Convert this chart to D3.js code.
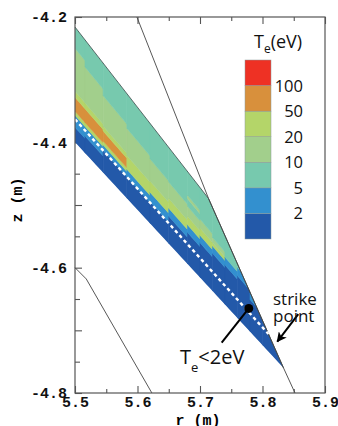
<!DOCTYPE html>
<html>
<head>
<meta charset="utf-8">
<script src="https://cdn.jsdelivr.net/npm/d3@7"></script>
<style>
  body { margin: 0; background: #fff; }
  svg { display: block; }
</style>
</head>
<body>
<svg id="chart" width="338" height="426"></svg>
<script>
// Te colour levels (eV) and their colours, bottom to top of the colour bar
const levels = [2, 5, 10, 20, 50, 100];
const levelColors = ['#2359a9', '#3390cf', '#77c9ae', '#a2cf8c', '#b4d569', '#d8903c', '#ee3124'];

// axis ticks
const xTicks = [5.5, 5.6, 5.7, 5.8, 5.9];
const xMinor = [5.55, 5.65, 5.75, 5.85];
const yTicks = [-4.2, -4.4, -4.6, -4.8];
const yMid = [-4.3, -4.5, -4.7];
const yMinor = [-4.25, -4.35, -4.45, -4.55, -4.65, -4.75];

// divertor leg: flux label 0 = innermost surface, 1 = outermost surface
const legLeft = [[5.5, -4.4], [5.5, -4.216]];          // where they cross r = 5.5
const legTarget = [[5.8336, -4.76], [5.7136, -4.4896]]; // where they end on the plate
const sepPsi = 0.2;                                     // separatrix flux label

// wall contours (r, z)
const wallOuter = [[5.599, -4.2], [5.7136, -4.4896], [5.8336, -4.76], [5.852, -4.8]];
const wallInner = [[5.5, -4.6], [5.518, -4.618], [5.623, -4.8]];

// Te on the grid: column edges in r, then per column runs of [upper flux label, Te]
const colEdges = [5.50, 5.516, 5.545, 5.583, 5.62, 5.65, 5.68, 5.70, 5.72, 5.74, 5.76, 5.78, 5.80, 5.85];
const colRuns = [
  [[0.13, 1.5], [0.235, 3], [0.27, 30], [0.39, 70], [0.443, 30], [0.817, 15], [1, 7]],
  [[0.15, 1.5], [0.235, 3], [0.27, 30], [0.39, 70], [0.44, 30], [0.76, 15], [1, 7]],
  [[0.2, 1.5], [0.25, 3], [0.285, 30], [0.375, 70], [0.42, 30], [0.70, 15], [1, 7]],
  [[0.2, 1.5], [0.27, 3], [0.40, 30], [0.66, 15], [1, 7]],
  [[0.21, 1.5], [0.30, 3], [0.41, 30], [0.63, 15], [1, 7]],
  [[0.27, 1.5], [0.35, 3], [0.45, 30], [0.62, 15], [1, 7]],
  [[0.32, 1.5], [0.40, 3], [0.49, 30], [0.60, 15], [0.68, 7], [0.72, 15], [1, 7]],
  [[0.36, 1.5], [0.44, 3], [0.52, 30], [0.62, 15], [1, 7]],
  [[0.40, 1.5], [0.48, 3], [0.52, 30], [0.58, 15], [1, 7]],
  [[0.43, 1.5], [0.52, 3], [1, 7]],
  [[0.47, 1.5], [0.57, 3], [1, 7]],
  [[0.36, 1.5], [1, 3]],
  [[1, 1.5]]
];

// annotations (r, z)
const dotPoint = [5.778, -4.665];
const dotLeader = [[5.778, -4.665], [5.7347, -4.7195]];
const dotLabelAt = [5.668, -4.7536];
const strikeArrow = [[5.8573, -4.6741], [5.8237, -4.7179]];
const strikeLabelAt = [5.8168, -4.6595];

const svg = d3.select('#chart');
const margin = { top: 17, right: 13, bottom: 33, left: 75 };
const x = d3.scaleLinear().domain([5.5, 5.9]).range([margin.left, 338 - margin.right]);
const y = d3.scaleLinear().domain([-4.2, -4.8]).range([margin.top, 426 - margin.bottom]);
const color = d3.scaleThreshold().domain(levels).range(levelColors);

const monoFont = '"Liberation Mono", "DejaVu Sans Mono", monospace';
const sansFont = '"Open Sans", "Noto Sans", sans-serif';

// flux surface z(r) for label t
function surface(t) {
  const z0 = legLeft[0][1] + t * (legLeft[1][1] - legLeft[0][1]);
  const rt = legTarget[0][0] + t * (legTarget[1][0] - legTarget[0][0]);
  const zt = legTarget[0][1] + t * (legTarget[1][1] - legTarget[0][1]);
  return { rEnd: rt, z: r => z0 + (zt - z0) * (r - 5.5) / (rt - 5.5) };
}

// ticks (drawn first, the leg covers them)
function styleAxis(g) {
  g.select('.domain').remove();
  g.selectAll('.tick line').attr('stroke', '#555').attr('stroke-width', 1.1);
  g.selectAll('.tick text')
    .attr('font-family', monoFont).attr('font-weight', 'bold')
    .attr('font-size', 15).attr('fill', '#111');
}
const H = 426 - margin.bottom;
svg.append('g').attr('transform', `translate(0,${H})`)
  .call(d3.axisBottom(x).tickValues(xTicks).tickSize(-7).tickPadding(3.5).tickFormat(d => d.toFixed(1)))
  .call(styleAxis);
svg.append('g').attr('transform', `translate(0,${H})`)
  .call(d3.axisBottom(x).tickValues(xMinor).tickSize(-4).tickFormat(''))
  .call(styleAxis);
svg.append('g').attr('transform', `translate(0,${margin.top})`)
  .call(d3.axisTop(x).tickValues(xTicks).tickSize(-7).tickFormat(''))
  .call(styleAxis);
svg.append('g').attr('transform', `translate(0,${margin.top})`)
  .call(d3.axisTop(x).tickValues(xMinor).tickSize(-4).tickFormat(''))
  .call(styleAxis);
svg.append('g').attr('transform', `translate(${margin.left},0)`)
  .call(d3.axisLeft(y).tickValues(yTicks).tickSize(-7).tickPadding(8).tickFormat(d => d.toFixed(1)))
  .call(styleAxis);
svg.append('g').attr('transform', `translate(${margin.left},0)`)
  .call(d3.axisLeft(y).tickValues(yMid).tickSize(-7).tickFormat(''))
  .call(styleAxis);
svg.append('g').attr('transform', `translate(${margin.left},0)`)
  .call(d3.axisLeft(y).tickValues(yMinor).tickSize(-5).tickFormat(''))
  .call(styleAxis);

// leg outline used as clip
const s0 = surface(0), s1 = surface(1);
const legPoly = [
  [5.5, s0.z(5.5)], [s0.rEnd, s0.z(s0.rEnd)],
  [s1.rEnd, s1.z(s1.rEnd)], [5.5, s1.z(5.5)]
];
const polyLine = d3.line().x(d => x(d[0])).y(d => y(d[1]));
svg.append('clipPath').attr('id', 'leg')
  .append('path').attr('d', polyLine(legPoly) + 'Z');

// grid cells
const cells = [];
colRuns.forEach((runs, i) => {
  const r0 = colEdges[i], r1 = colEdges[i + 1];
  let tLo = 0;
  runs.forEach(([tHi, te]) => {
    const a = surface(tLo), b = surface(tHi);
    cells.push({ te, pts: [[r0, a.z(r0)], [r1, a.z(r1)], [r1, b.z(r1)], [r0, b.z(r0)]] });
    tLo = tHi;
  });
});
svg.append('g').attr('clip-path', 'url(#leg)')
  .selectAll('path').data(cells).join('path')
  .attr('d', d => polyLine(d.pts) + 'Z')
  .attr('fill', d => color(d.te))
  .attr('stroke', d => color(d.te))
  .attr('stroke-width', 0.6);

// leg edge along outer surface and plate
svg.append('path')
  .attr('d', polyLine([legPoly[3], legPoly[2], legPoly[1]]))
  .attr('fill', 'none').attr('stroke', '#3a4a4a').attr('stroke-width', 0.8);

// walls
[wallOuter, wallInner].forEach(w => {
  svg.append('path').attr('d', polyLine(w))
    .attr('fill', 'none').attr('stroke', '#444').attr('stroke-width', 0.9);
});

// separatrix
const sep = surface(sepPsi);
svg.append('path')
  .attr('d', polyLine([[5.5, sep.z(5.5)], [sep.rEnd, sep.z(sep.rEnd)]]))
  .attr('fill', 'none').attr('stroke', '#fff').attr('stroke-width', 2.4)
  .attr('stroke-dasharray', '3.5,3');

// frame
svg.append('rect')
  .attr('x', x(5.5)).attr('y', y(-4.2))
  .attr('width', x(5.9) - x(5.5)).attr('height', y(-4.8) - y(-4.2))
  .attr('fill', 'none').attr('stroke', '#555').attr('stroke-width', 1.2);

// axis titles
svg.append('text')
  .attr('transform', `translate(22,${(y(-4.2) + y(-4.8)) / 2 - 5}) rotate(-90)`)
  .attr('text-anchor', 'middle')
  .attr('font-family', monoFont).attr('font-weight', 'bold').attr('font-size', 15)
  .text('z (m)');
svg.append('text')
  .attr('x', (x(5.5) + x(5.9)) / 2 - 2).attr('y', 425)
  .attr('text-anchor', 'middle')
  .attr('font-family', monoFont).attr('font-weight', 'bold').attr('font-size', 15)
  .text('r (m)');

// colour bar
const cb = d3.scaleLinear().domain([0, levelColors.length]).range([239, 60]);
const cbX = 245, cbW = 26;
svg.append('g').selectAll('rect').data(levelColors).join('rect')
  .attr('x', cbX).attr('width', cbW)
  .attr('y', (d, i) => cb(i + 1)).attr('height', (d, i) => cb(i) - cb(i + 1))
  .attr('fill', d => d)
  .attr('stroke', '#8a9a9a').attr('stroke-width', 0.5);
svg.append('g').selectAll('text').data(levels).join('text')
  .attr('x', 303).attr('y', (d, i) => cb(i + 1))
  .attr('dy', '0.36em').attr('text-anchor', 'end')
  .attr('font-family', sansFont).attr('font-size', 16.5).attr('fill', '#111')
  .text(d => d);
const cbTitle = svg.append('text').attr('x', 254).attr('y', 48)
  .attr('font-family', sansFont).attr('font-size', 18).attr('fill', '#111');
cbTitle.append('tspan').text('T');
cbTitle.append('tspan').attr('font-size', 12).attr('dy', 5).text('e');
cbTitle.append('tspan').attr('dy', -5).text('(eV)');

// Te < 2 eV annotation
svg.append('path').attr('d', polyLine(dotLeader))
  .attr('stroke', '#000').attr('stroke-width', 2);
svg.append('circle')
  .attr('cx', x(dotPoint[0])).attr('cy', y(dotPoint[1])).attr('r', 4.5)
  .attr('fill', '#000');
const teLab = svg.append('text')
  .attr('x', x(dotLabelAt[0])).attr('y', y(dotLabelAt[1]))
  .attr('font-family', sansFont).attr('font-size', 20).attr('fill', '#111');
teLab.append('tspan').text('T');
teLab.append('tspan').attr('font-size', 13).attr('dy', 8).text('e');
teLab.append('tspan').attr('dy', -8).text('<2eV');

// strike point annotation
svg.append('defs').append('marker')
  .attr('id', 'head').attr('viewBox', '0 0 10 10')
  .attr('refX', 9).attr('refY', 5)
  .attr('markerWidth', 5).attr('markerHeight', 5)
  .attr('orient', 'auto')
  .append('path').attr('d', 'M0,0L10,5L0,10L2.5,5Z').attr('fill', '#000');
svg.append('path').attr('d', polyLine(strikeArrow))
  .attr('stroke', '#000').attr('stroke-width', 2)
  .attr('marker-end', 'url(#head)');
const spLab = svg.append('text')
  .attr('x', x(strikeLabelAt[0])).attr('y', y(strikeLabelAt[1]))
  .attr('font-family', sansFont).attr('font-size', 17).attr('fill', '#111');
spLab.append('tspan').text('strike');
spLab.append('tspan').attr('x', x(strikeLabelAt[0])).attr('dy', 17).text('point');
</script>
</body>
</html>
